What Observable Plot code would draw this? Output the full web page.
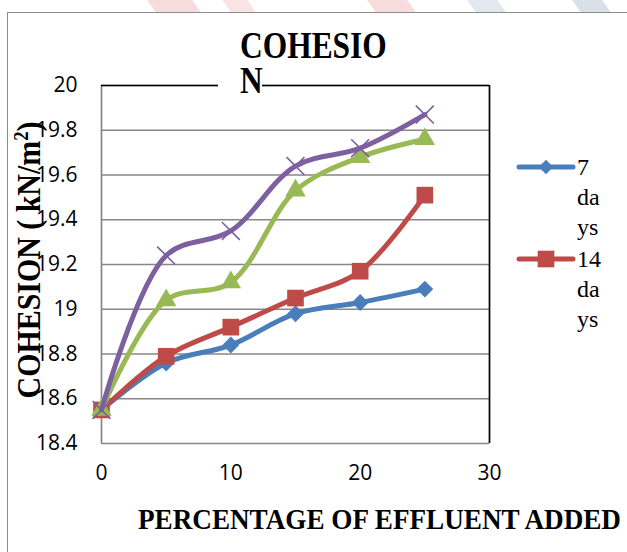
<!DOCTYPE html>
<html><head><meta charset="utf-8">
<script src="https://cdn.jsdelivr.net/npm/d3@7"></script>
<script src="https://cdn.jsdelivr.net/npm/@observablehq/plot@0.6"></script>
<style>
body{margin:0;background:#fff;}
#wrap{position:relative;width:627px;height:552px;overflow:hidden;background:#fff;font-family:"Liberation Serif","Times New Roman",serif;color:#000;}
#border{position:absolute;left:7px;top:12px;width:660px;height:600px;border:1.5px solid #8c8c8c;box-sizing:border-box;}
.wm{position:absolute;top:-4px;height:16px;transform:skewX(35deg);}
#chart{position:absolute;left:0;top:0;}
#chart svg text{font-family:"Open Sans",sans-serif !important;font-size:21px !important;fill:#000;}
.title{position:absolute;font-weight:bold;white-space:pre;transform-origin:0 0;}
#t1{left:240px;top:28px;font-size:37px;line-height:35px;transform:scaleX(0.85);}
#nbox{position:absolute;left:218px;top:76px;width:44px;height:18px;background:#fff;}
#ytitle{position:absolute;left:29px;top:260px;font-size:34px;font-weight:bold;white-space:nowrap;transform:translate(-50%,-50%) rotate(-90deg) scaleX(0.88);}
#xtitle{position:absolute;left:138px;top:502px;font-size:30px;font-weight:bold;white-space:nowrap;transform-origin:0 0;transform:scaleX(0.905);}
.lt{position:absolute;left:577px;font-size:24px;line-height:30px;}
.ls{position:absolute;left:516px;}
</style></head>
<body>
<div id="wrap">
  <div class="wm" style="left:150px;width:45px;background:#f6dcdc"></div>
  <div class="wm" style="left:225px;width:25px;background:#f8e4e4"></div>
  <div class="wm" style="left:370px;width:40px;background:#f6dcdc"></div>
  <div class="wm" style="left:470px;width:30px;background:#e3e8ee"></div>
  <div class="wm" style="left:575px;width:30px;background:#d9e0e8"></div>
  <div id="border"></div>
  <div id="chart"></div>
  <div id="nbox"></div>
  <div class="title" id="t1">COHESIO
N</div>
  <div id="ytitle">COHESION ( kN/m<sup style="font-size:0.62em;vertical-align:0.55em;line-height:0">2</sup>)</div>
  <div id="xtitle">PERCENTAGE OF EFFLUENT ADDED</div>
  <div id="legend"></div>
</div>
<script>
// ---- data ----
const effluent = [0, 5, 10, 15, 20, 25];
const seriesNames = ["7 days", "14 days", "21 days", "28 days"];
const days7  = [18.55, 18.76, 18.84, 18.98, 19.03, 19.09];
const days14 = [18.55, 18.79, 18.92, 19.05, 19.17, 19.51];
const days21 = [18.55, 19.04, 19.12, 19.53, 19.68, 19.76];
const days28 = [18.55, 19.24, 19.35, 19.64, 19.72, 19.87];
const xTicks = [0, 10, 20, 30];
const yTicks = [18.4, 18.6, 18.8, 19, 19.2, 19.4, 19.6, 19.8, 20];
const legendLines = [["7", "da", "ys"], ["14", "da", "ys"]];

const colors = ["#4a7ebb", "#be4b48", "#98b954", "#7d60a0"];
const symbols = ["diamond2", "square", "triangle", "times"];
const radii = [7.6, 9.4, 7.6, 8.2];
const allValues = [days7, days14, days21, days28];

const rows = allValues.map((vals, i) => effluent.map((x, j) => ({x, y: vals[j], s: seriesNames[i]})));

const marks = [
  Plot.gridY(yTicks, {stroke: "#878787", strokeOpacity: 1, strokeWidth: 1.7}),
  Plot.ruleX([0], {stroke: "#878787", strokeWidth: 1.7}),
  Plot.ruleY([20], {stroke: "#000", strokeWidth: 1.7}),
  Plot.ruleX([30], {stroke: "#000", strokeWidth: 1.7}),
  Plot.axisY(yTicks, {tickSize: 0, tickPadding: 24, tickFormat: d => String(+d.toFixed(1)), label: null}),
  Plot.axisX(xTicks, {tickSize: 0, tickPadding: 22, label: null})
];
rows.forEach((data, i) => {
  marks.push(Plot.line(data, {x: "x", y: "y", stroke: colors[i], strokeWidth: 5, curve: "catmull-rom"}));
  if (symbols[i] === "times") {
    marks.push(Plot.dot(data, {x: "x", y: "y", symbol: "times", r: radii[i], stroke: colors[i], strokeWidth: 1.6}));
  } else {
    marks.push(Plot.dot(data, {x: "x", y: "y", symbol: symbols[i], r: radii[i], fill: colors[i], stroke: "none"}));
  }
});

const chart = Plot.plot({
  width: 627, height: 552,
  marginLeft: 101, marginRight: 138, marginTop: 85, marginBottom: 109,
  x: {domain: [0, 30], label: null},
  y: {domain: [18.4, 20], label: null},
  style: {background: "transparent", fontFamily: "'Open Sans', sans-serif", fontSize: "21px", color: "#000", overflow: "visible"},
  marks
});
document.getElementById("chart").appendChild(chart);

// ---- legend (first two series only, as in the reference) ----
const legend = document.getElementById("legend");
legendLines.forEach((lines, i) => {
  const top = 152 + i * 92;
  const svg = d3.create("svg").attr("class", "ls").attr("width", 60).attr("height", 32)
    .style("top", (top - 1) + "px");
  svg.append("line").attr("x1", 3).attr("x2", 57).attr("y1", 16).attr("y2", 16)
    .attr("stroke", colors[i]).attr("stroke-width", 5).attr("stroke-linecap", "round");
  const sym = d3.symbol(i === 0 ? d3.symbolDiamond2 : d3.symbolSquare, Math.PI * radii[i] * radii[i] * (i === 0 ? 0.75 : 1));
  svg.append("path").attr("d", sym()).attr("transform", "translate(30,16)").attr("fill", colors[i]);
  legend.appendChild(svg.node());
  const t = document.createElement("div");
  t.className = "lt";
  t.style.top = top + "px";
  t.innerHTML = lines.join("<br>");
  legend.appendChild(t);
});
</script>
</body></html>
